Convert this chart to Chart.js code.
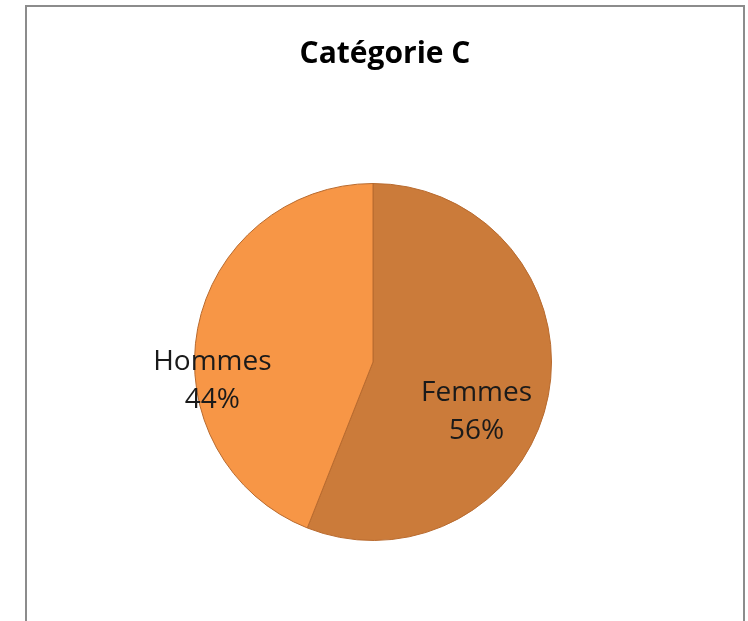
<!DOCTYPE html>
<html>
<head>
<meta charset="utf-8">
<script src="https://cdn.jsdelivr.net/npm/chart.js@4/dist/chart.umd.min.js"></script>
<style>
  html, body { margin: 0; padding: 0; background: #fff; overflow: hidden; }
  #wrap { position: relative; width: 748px; height: 621px; }
  #frame {
    position: absolute; left: 25px; top: 5px; width: 716px; height: 700px;
    border: 2px solid #8c8c8c; pointer-events: none;
  }
  canvas { position: absolute; left: 0; top: 0; }
</style>
</head>
<body>
<div id="wrap">
  <canvas id="chart-pie" width="748" height="621"></canvas>
  <div id="frame"></div>
</div>
<script>
const titleText = "Catégorie C";
const categories = ["Femmes", "Hommes"];
const shares = [56, 44];
const sliceColors = ["#cb7b3a", "#f79646"];

// where each label block sits, as a fraction of the radius from the centre
const labelOffsets = [[0.58, 0.28], [-0.9, 0.105]];

const labelFont = "28px 'Open Sans'";

const sliceLabels = {
  id: "sliceLabels",
  afterDatasetsDraw(chart) {
    const { ctx } = chart;
    const meta = chart.getDatasetMeta(0);
    const total = shares.reduce((s, v) => s + v, 0);
    ctx.save();
    ctx.font = labelFont;
    ctx.fillStyle = "#1a1a1a";
    ctx.textAlign = "center";
    ctx.textBaseline = "middle";
    meta.data.forEach((arc, i) => {
      const [fx, fy] = labelOffsets[i];
      const cx = arc.x + fx * arc.outerRadius;
      const cy = arc.y + fy * arc.outerRadius;
      const pct = Math.round((shares[i] / total) * 100) + "%";
      ctx.fillText(categories[i], cx, cy - 19);
      ctx.fillText(pct, cx, cy + 19);
    });
    ctx.restore();
  }
};

// the title sits in the middle of the frame, the pie a little to the left of it
const titleShift = {
  id: "titleShift",
  afterLayout(chart) {
    if (chart.titleBlock) {
      chart.titleBlock.left += 12;
      chart.titleBlock.right += 12;
    }
  }
};

new Chart(document.getElementById("chart-pie"), {
  type: "pie",
  data: {
    labels: categories,
    datasets: [{
      data: shares,
      backgroundColor: sliceColors,
      borderColor: "#b86a2e",
      borderWidth: 1
    }]
  },
  options: {
    responsive: false,
    animation: false,
    devicePixelRatio: 1,
    layout: { padding: { top: 0, left: 0, right: 2, bottom: 80 } },
    plugins: {
      legend: { display: false },
      tooltip: { enabled: false },
      title: {
        display: true,
        text: titleText,
        color: "#000",
        font: { family: "'Open Sans'", size: 30, weight: "bold", lineHeight: 1.2 },
        padding: { top: 36, bottom: 111 }
      }
    }
  },
  plugins: [sliceLabels, titleShift]
});
</script>
</body>
</html>
